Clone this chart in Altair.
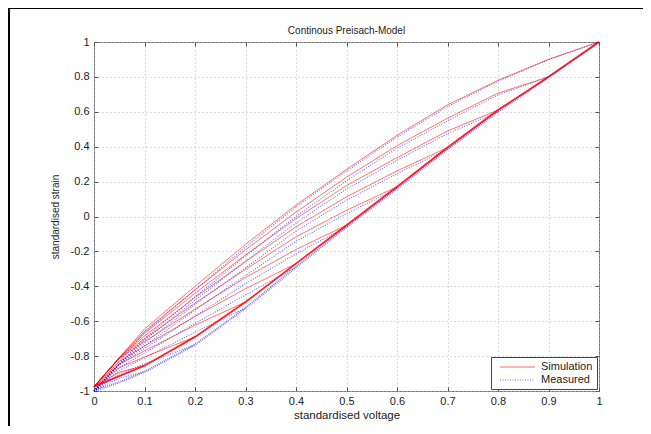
import altair as alt
import pandas as pd

# ---------------- data ----------------
volt = [0.0, 0.05, 0.1, 0.2, 0.3, 0.4, 0.5, 0.6, 0.7, 0.8, 0.9, 1.0]
reversal_volt = [0.1, 0.2, 0.3, 0.4, 0.5, 0.6, 0.7, 0.8, 0.9, 1.0]

# ascending (lower) branches
sim_ascending = [-0.975, -0.915, -0.855, -0.69, -0.49, -0.27, -0.05, 0.17, 0.395, 0.61, 0.80, 1.0]
meas_ascending = [-1.0, -0.95, -0.89, -0.735, -0.525, -0.29, -0.06, 0.16, 0.385, 0.60, 0.80, 1.0]

# descending branches from each reversal voltage (values at volt[0..k])
sim_desc_01 = [-0.975, -0.892, -0.855]
sim_desc_02 = [-0.975, -0.867, -0.805, -0.69]
sim_desc_03 = [-0.975, -0.848, -0.770, -0.623, -0.49]
sim_desc_04 = [-0.975, -0.831, -0.742, -0.573, -0.414, -0.27]
sim_desc_05 = [-0.975, -0.815, -0.717, -0.531, -0.35, -0.189, -0.05]
sim_desc_06 = [-0.975, -0.813, -0.701, -0.496, -0.303, -0.117, 0.036, 0.17]
sim_desc_07 = [-0.975, -0.811, -0.685, -0.464, -0.259, -0.059, 0.113, 0.261, 0.395]
sim_desc_08 = [-0.975, -0.809, -0.67, -0.44, -0.221, -0.012, 0.177, 0.337, 0.49, 0.61]
sim_desc_09 = [-0.975, -0.81, -0.658, -0.421, -0.191, 0.025, 0.225, 0.406, 0.563, 0.707, 0.80]
sim_desc_10 = [-0.975, -0.81, -0.645, -0.40, -0.16, 0.065, 0.27, 0.465, 0.64, 0.78, 0.90, 1.0]

meas_desc_01 = [-1.0, -0.927, -0.89]
meas_desc_02 = [-1.0, -0.902, -0.845, -0.735]
meas_desc_03 = [-1.0, -0.883, -0.81, -0.663, -0.525]
meas_desc_04 = [-1.0, -0.866, -0.782, -0.613, -0.449, -0.29]
meas_desc_05 = [-1.0, -0.85, -0.757, -0.571, -0.385, -0.214, -0.06]
meas_desc_06 = [-1.0, -0.848, -0.741, -0.536, -0.338, -0.142, 0.016, 0.16]
meas_desc_07 = [-1.0, -0.846, -0.725, -0.504, -0.294, -0.084, 0.093, 0.246, 0.385]
meas_desc_08 = [-1.0, -0.844, -0.71, -0.48, -0.256, -0.037, 0.157, 0.322, 0.475, 0.60]
meas_desc_09 = [-1.0, -0.845, -0.698, -0.461, -0.226, 0.0, 0.205, 0.391, 0.548, 0.697, 0.80]
meas_desc_10 = [-1.0, -0.83, -0.665, -0.42, -0.175, 0.055, 0.26, 0.455, 0.63, 0.775, 0.90, 1.0]

series_names = ["Simulation", "Measured"]
x_ticks = [0, 0.1, 0.2, 0.3, 0.4, 0.5, 0.6, 0.7, 0.8, 0.9, 1]
y_ticks = [-1, -0.8, -0.6, -0.4, -0.2, 0, 0.2, 0.4, 0.6, 0.8, 1]

sim_desc = [sim_desc_01, sim_desc_02, sim_desc_03, sim_desc_04, sim_desc_05,
            sim_desc_06, sim_desc_07, sim_desc_08, sim_desc_09, sim_desc_10]
meas_desc = [meas_desc_01, meas_desc_02, meas_desc_03, meas_desc_04, meas_desc_05,
             meas_desc_06, meas_desc_07, meas_desc_08, meas_desc_09, meas_desc_10]


def rows_for(series, branch, ys):
    return [{"volt": x, "strain": y, "series": series, "branch": branch}
            for x, y in zip(volt, ys)]


sim_rows, meas_rows = [], []
for r, ys in zip(reversal_volt, sim_desc):
    sim_rows += rows_for("Simulation", f"down {r}", ys)
for r, ys in zip(reversal_volt, meas_desc):
    meas_rows += rows_for("Measured", f"down {r}", ys)
df_sim = pd.DataFrame(sim_rows)
df_meas = pd.DataFrame(meas_rows)
df_sim_up = pd.DataFrame(rows_for("Simulation", "up", sim_ascending))
df_meas_up = pd.DataFrame(rows_for("Measured", "up", meas_ascending))
df_all = pd.concat([df_sim, df_meas, df_sim_up, df_meas_up])

# ---------------- chart ----------------
FONT = "Liberation Sans"
W, H = 505, 349
TXT = "#222222"

xscale = alt.Scale(domain=[0, 1], nice=False)
yscale = alt.Scale(domain=[-1, 1], nice=False)

x_main = alt.X("volt:Q", scale=xscale, axis=alt.Axis(
    values=x_ticks, labelExpr="'' + datum.value", labelFlush=False, labelOverlap=False,
    ticks=False, domain=False, grid=True, gridDash=[1, 3], gridColor="#b8b8b8",
    labelFont=FONT, labelFontSize=11, labelColor=TXT, labelPadding=4,
    title="standardised voltage", titleFont=FONT, titleFontSize=11.5,
    titleFontWeight="normal", titleColor=TXT, titleX=W / 2, titleY=24,
    titleBaseline="middle", titleAlign="center"))
y_main = alt.Y("strain:Q", scale=yscale, axis=alt.Axis(
    values=y_ticks, labelExpr="'' + datum.value", labelOverlap=False,
    ticks=False, domain=False, grid=True, gridDash=[1, 3], gridColor="#b8b8b8",
    labelFont=FONT, labelFontSize=11, labelColor=TXT, labelPadding=5,
    title="standardised strain", titleFont=FONT, titleFontSize=10,
    titleFontWeight="normal", titleColor=TXT, titleX=-39, titleY=H / 2,
    titleBaseline="middle", titleAlign="center"))
x_plain = alt.X("volt:Q", scale=xscale, axis=None)
y_plain = alt.Y("strain:Q", scale=yscale, axis=None)

color = alt.Color("series:N", scale=alt.Scale(domain=series_names, range=["#ff0000", "#0000ff"]),
                  legend=alt.Legend(title=None, orient="bottom-right", offset=2, padding=4,
                                    strokeColor="#444", fillColor="white",
                                    symbolType="M-0.2,0H6.8", symbolSize=100,
                                    symbolStrokeWidth=1.2, symbolOpacity=0.7,
                                    labelOffset=34, labelFont=FONT, labelFontSize=11,
                                    labelColor=TXT, rowPadding=2))
dash = alt.StrokeDash("series:N", scale=alt.Scale(domain=series_names, range=[[1, 0], [1, 1.5]]))

meas_lines = alt.Chart(df_meas).mark_line(strokeWidth=1.1, opacity=0.6).encode(
    x=x_main, y=y_main, color=color, strokeDash=dash, detail="branch:N")
meas_up = alt.Chart(df_meas_up).mark_line(strokeWidth=2.2, opacity=0.55, strokeDash=[1, 1]).encode(
    x=x_plain, y=y_plain, color=alt.value("#0000ff"))
sim_lines = alt.Chart(df_sim).mark_line(strokeWidth=1, opacity=0.6).encode(
    x=x_plain, y=y_plain, color=color, strokeDash=dash, detail="branch:N")
sim_up = alt.Chart(df_sim_up).mark_line(strokeWidth=1.8, opacity=0.85).encode(
    x=x_plain, y=y_plain, color=alt.value("#ff0000"))

# inward tick marks on all four sides (axes only, no labels)
tick_kw = dict(labels=False, ticks=True, tickSize=4, offset=-4, domain=False, grid=False,
               title=None, tickColor="#555555")
ticks_bl = alt.Chart(df_all).mark_point(opacity=0).encode(
    x=alt.X("volt:Q", scale=xscale, axis=alt.Axis(orient="bottom", values=x_ticks, **tick_kw)),
    y=alt.Y("strain:Q", scale=yscale, axis=alt.Axis(orient="left", values=y_ticks, **tick_kw)))
ticks_tr = alt.Chart(df_all).mark_point(opacity=0).encode(
    x=alt.X("volt:Q", scale=xscale, axis=alt.Axis(orient="top", values=x_ticks, **tick_kw)),
    y=alt.Y("strain:Q", scale=yscale, axis=alt.Axis(orient="right", values=y_ticks, **tick_kw)))

# outer picture frame (left and top edges)
frame_left = alt.Chart(df_sim_up).mark_rule(color="black", strokeWidth=2).encode(
    x=alt.value(-85), y=alt.value(-34), y2=alt.value(H + 35))
frame_top = alt.Chart(df_sim_up).mark_rule(color="black", strokeWidth=2).encode(
    x=alt.value(-85), x2=alt.value(W + 44), y=alt.value(-34))

chart = alt.layer(
    meas_lines, meas_up, sim_lines, sim_up, ticks_bl, ticks_tr, frame_left, frame_top
).resolve_axis(x="independent", y="independent").properties(
    width=W, height=H,
    autosize=alt.AutoSizeParams(type="none"),
    padding={"left": 86, "top": 34, "right": 44, "bottom": 35},
    title=alt.Title("Continous Preisach-Model", font=FONT, fontSize=10,
                    fontWeight="normal", color=TXT, offset=6, dy=35, anchor="middle"),
    background="white",
).configure_view(stroke="#777777", strokeWidth=1)

chart.save("out.html", embed_options={"renderer": "svg", "actions": False})
